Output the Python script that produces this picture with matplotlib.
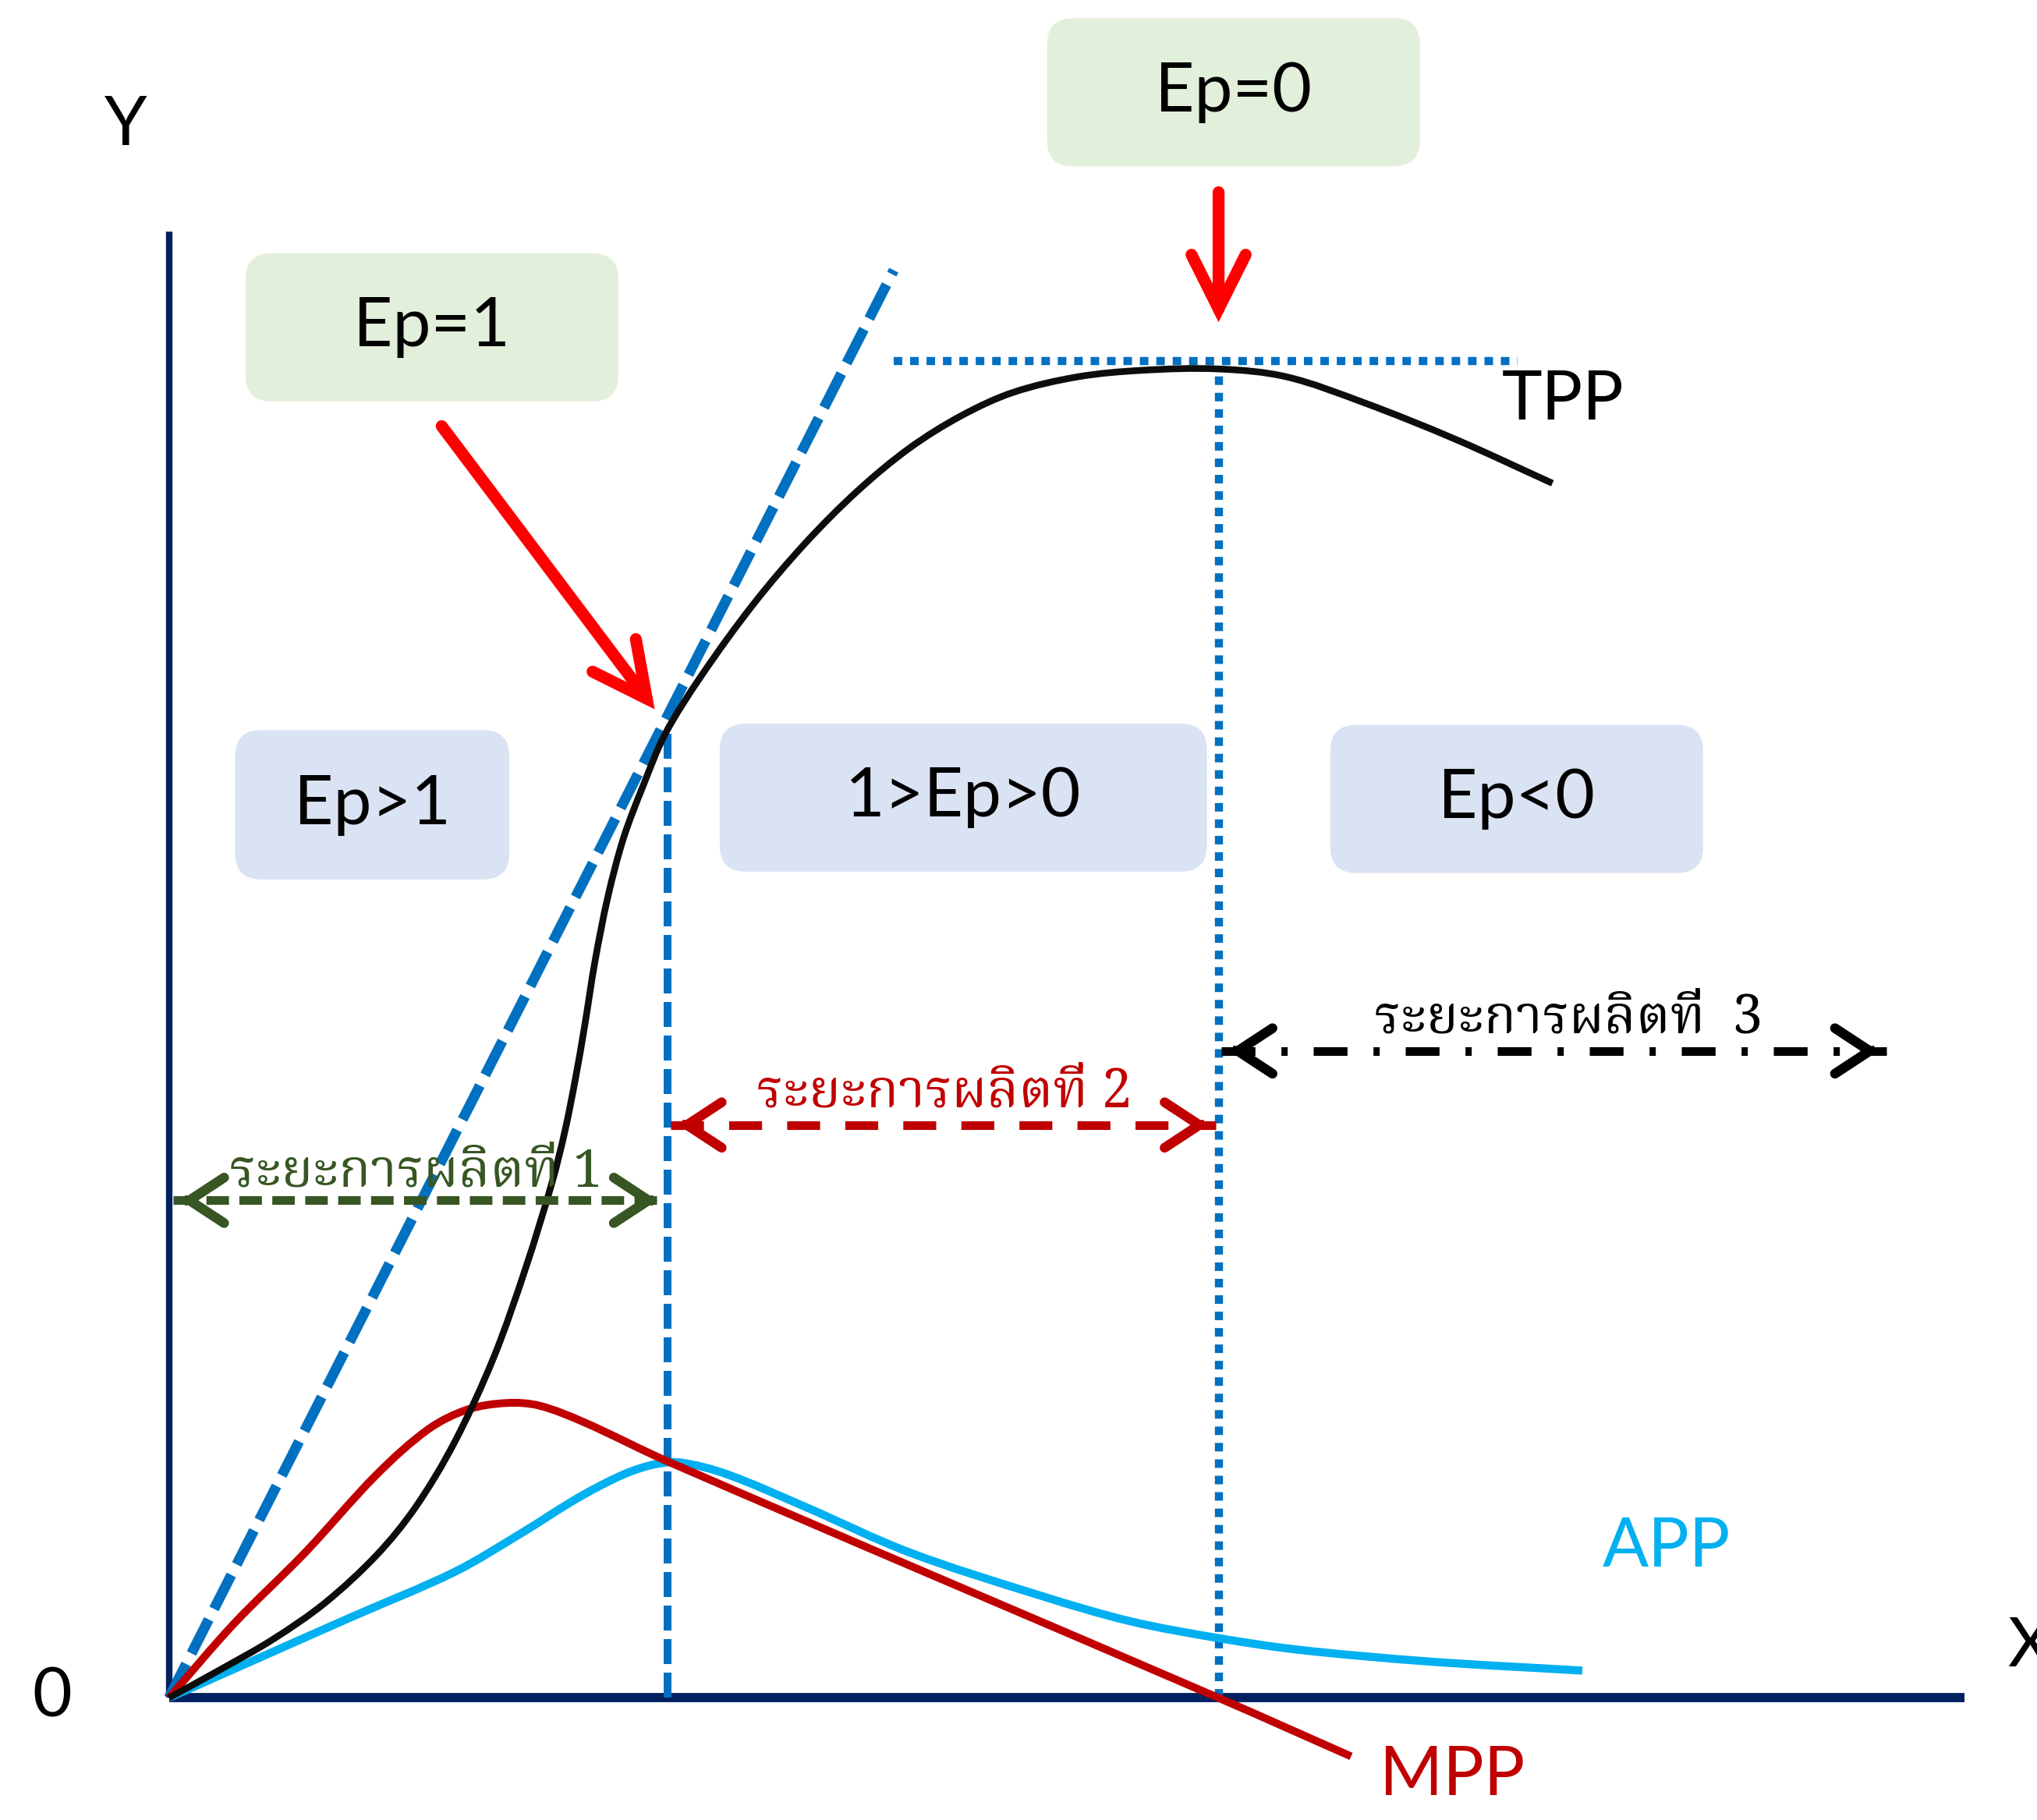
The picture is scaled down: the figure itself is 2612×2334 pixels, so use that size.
import matplotlib
matplotlib.use("Agg")
import numpy as np
import matplotlib.pyplot as plt
from matplotlib import font_manager
from matplotlib.ft2font import FT2Font
from matplotlib.patches import FancyBboxPatch, PathPatch
from matplotlib.path import Path

# drawing units: origin where the two axes meet, 1 unit ~ 1/14 of the width

# TPP / MPP / APP curves
tpp_x = [0, 0.40, 0.80, 1.20, 1.60, 1.90, 2.20, 2.50, 2.75, 2.95, 3.05, 3.13, 3.20,
         3.28, 3.38, 3.50, 3.65, 3.82, 4.10, 4.50, 4.90, 5.30, 5.70, 6.10, 6.50,
         7.00, 7.50, 8.08, 8.60, 9.20, 9.90, 10.65]
tpp_y = [0, 0.22, 0.45, 0.73, 1.10, 1.47, 1.97, 2.62, 3.32, 3.97, 4.37, 4.77, 5.17,
         5.67, 6.17, 6.62, 7.02, 7.42, 7.87, 8.42, 8.89, 9.29, 9.62, 9.87, 10.05,
         10.17, 10.22, 10.23, 10.17, 9.97, 9.69, 9.35]

mpp_x = [0, 0.50, 1.05, 1.60, 2.00, 2.30, 2.60, 2.85, 3.20, 3.84, 8.08, 9.10]
mpp_y = [0, 0.57, 1.12, 1.72, 2.07, 2.22, 2.27, 2.25, 2.12, 1.82, 0.00, -0.45]

app_x = [0, 0.70, 1.40, 2.20, 2.70, 3.15, 3.50, 3.75, 3.95, 4.30, 4.90, 5.70,
         6.70, 7.40, 8.08, 8.70, 9.70, 10.88]
app_y = [0, 0.31, 0.62, 0.97, 1.26, 1.54, 1.72, 1.80, 1.81, 1.72, 1.47, 1.12,
         0.79, 0.59, 0.46, 0.37, 0.28, 0.21]

# tangent through the origin (Ep=1) and the guide lines
tangent_x = [0, 5.58]
tangent_y = [0, 10.99]
x_ep1 = 3.84          # TPP point where Ep = 1
y_ep1 = 7.42
x_ep0 = 8.08          # TPP maximum, Ep = 0
y_ep0 = 10.23
top_line_x = [5.58, 10.38]
top_line_y = 10.29

x_axis_end = 13.82
y_axis_end = 11.29

# stage ranges
stage_labels = ["ระยะการผลิตที่ 1", "ระยะการผลิตที่ 2", "ระยะการผลิตที่  3"]
stage_start = [0.03, 3.86, 8.10]
stage_end = [3.82, 8.06, 13.22]
stage_y = [3.83, 4.41, 4.98]
stage_text_x = [1.90, 5.97, 10.77]
stage_text_y = [3.94, 4.55, 5.12]
stage_text_w = [2.87, 2.89, 2.99]

# label boxes: text, (left, bottom, width, height), face colour
box_text = ["Ep=0", "Ep=1", "Ep>1", "1>Ep>0", "Ep<0"]
box_rect = [(6.76, 11.79, 2.87, 1.14),
            (0.59, 9.98, 2.87, 1.14),
            (0.51, 6.30, 2.11, 1.15),
            (4.24, 6.36, 3.75, 1.14),
            (8.94, 6.35, 2.87, 1.14)]
box_color = ["#E2EFDA", "#E2EFDA", "#DAE3F3", "#DAE3F3", "#DAE3F3"]

# red pointer arrows (from, to)
ep0_arrow = [(8.08, 11.59), (8.08, 10.59)]
ep1_arrow = [(2.10, 9.79), (3.74, 7.61)]


def thai_family():
    prefs = ["Angsana New", "Norasi", "Kinnari", "Laksaman", "TH Sarabun New",
             "Noto Serif Thai", "Garuda", "Loma", "Noto Sans Thai",
             "Noto Sans Thai Looped", "Tlwg Typo"]
    found = []
    for f in font_manager.fontManager.ttflist:
        try:
            cmap = FT2Font(f.fname).get_charmap()
        except Exception:
            continue
        if 0x0E23 in cmap and 0x0E34 in cmap:
            found.append(f.name)
    for p in prefs:
        if p in found:
            return p
    if found:
        return found[0]
    return "DejaVu Sans"


def smooth(xs, ys):
    # chord-length Catmull-Rom through the read points, drawn as Bezier segments
    p = np.column_stack([xs, ys]).astype(float)
    n = len(p)
    t = np.concatenate([[0], np.cumsum(np.hypot(*np.diff(p, axis=0).T))])
    m = np.zeros_like(p)
    m[0] = (p[1] - p[0]) / (t[1] - t[0])
    m[-1] = (p[-1] - p[-2]) / (t[-1] - t[-2])
    for i in range(1, n - 1):
        m[i] = (p[i + 1] - p[i - 1]) / (t[i + 1] - t[i - 1])
    verts = [tuple(p[0])]
    codes = [Path.MOVETO]
    for i in range(n - 1):
        h = (t[i + 1] - t[i]) / 3
        verts += [tuple(p[i] + m[i] * h), tuple(p[i + 1] - m[i + 1] * h), tuple(p[i + 1])]
        codes += [Path.CURVE4] * 3
    return Path(verts, codes)


plt.rcParams['font.family'] = ['Lato', 'DejaVu Sans']
thai = thai_family()

fig = plt.figure(figsize=(26.12, 23.34), dpi=100)
ax = fig.add_axes([0, 0, 1, 1])
ax.set_xlim(-1.30, 14.38)
ax.set_ylim(-0.94, 13.07)
ax.axis('off')

navy = "#002060"
blue = "#0070C0"

# axes
ax.plot([0, 0], [0, y_axis_end], color=navy, lw=6, solid_capstyle='butt', zorder=2)
ax.plot([0, x_axis_end], [0, 0], color=navy, lw=8.5, solid_capstyle='butt', zorder=2)

# boxes
for txt, (bx, by, bw, bh), fc in zip(box_text, box_rect, box_color):
    ax.add_patch(FancyBboxPatch((bx, by), bw, bh,
                                boxstyle="round,pad=0,rounding_size=0.2",
                                fc=fc, ec='none', zorder=1))
    ax.text(bx + bw / 2, by + bh / 2, txt, fontsize=63, ha='center', va='center',
            color='black', zorder=6)

# guide lines
ax.plot(tangent_x, tangent_y, color=blue, lw=9.5, dashes=(3.7, 1.15), zorder=3)
ax.plot([x_ep1, x_ep1], [0, y_ep1], color=blue, lw=7.2, dashes=(3.2, 1.1), zorder=3)
ax.plot([x_ep0, x_ep0], [0, y_ep0], color=blue, lw=7.5, dashes=(1.05, 0.97), zorder=3)
ax.plot(top_line_x, [top_line_y, top_line_y], color=blue, lw=7.5, dashes=(1.05, 0.97),
        zorder=3)

# curves
for xs, ys, col, lw, z in [(app_x, app_y, "#00B0F0", 7.5, 4),
                           (mpp_x, mpp_y, "#C00000", 7.2, 4),
                           (tpp_x, tpp_y, "#0D0D0D", 6.2, 5)]:
    ax.add_patch(PathPatch(smooth(xs, ys), fill=False, ec=col, lw=lw,
                           capstyle='butt', joinstyle='round', zorder=z))

# red pointers
for (x0, y0), (x1, y1) in [ep0_arrow, ep1_arrow]:
    ax.annotate('', xy=(x1, y1), xytext=(x0, y0),
                arrowprops=dict(arrowstyle='->,head_length=50,head_width=25',
                                color='#FF0000', lw=11, mutation_scale=1,
                                shrinkA=0, shrinkB=0, capstyle='round',
                                joinstyle='miter'), zorder=7)

# stage arrows
stage_color = ["#375623", "#C00000", "black"]
stage_dash = [(2.6, 1.2), (3.8, 2.9), (3.9, 3.0, 0.72, 3.0)]
thai_texts = []
for i in range(3):
    ax.plot([stage_start[i], stage_end[i]], [stage_y[i], stage_y[i]],
            color=stage_color[i], lw=8, dashes=stage_dash[i], zorder=6)
    for tip, d in [(stage_start[i], -1), (stage_end[i], 1)]:
        ax.annotate('', xy=(tip - d * 0.06, stage_y[i]), xytext=(tip - d * 0.1, stage_y[i]),
                    arrowprops=dict(arrowstyle='->,head_length=32,head_width=21',
                                    color=stage_color[i], lw=9, mutation_scale=1,
                                    shrinkA=0, shrinkB=0, capstyle='round',
                                    joinstyle='miter'), zorder=6)
    t = ax.text(stage_text_x[i], stage_text_y[i], stage_labels[i], family=[thai, 'DejaVu Sans'],
                fontsize=40, ha='center', va='baseline', color=stage_color[i], zorder=6)
    thai_texts.append(t)

# fit the Thai labels to the width they have in the picture
renderer = fig.canvas.get_renderer()
px_per_unit = fig.bbox.width / (14.38 + 1.30)
for t, w in zip(thai_texts, stage_text_w):
    bb = t.get_window_extent(renderer)
    if bb.width > 0:
        t.set_fontsize(40 * w * px_per_unit / bb.width)

# curve and axis labels
ax.text(-0.33, 12.10, "Y", fontsize=63, ha='center', va='center')
ax.text(-0.90, 0.0, "0", fontsize=63, ha='center', va='center')
ax.text(14.15, 0.39, "X", fontsize=63, ha='left', va='center')
ax.text(10.73, 9.99, "TPP", fontsize=63, ha='center', va='center')
ax.text(11.53, 1.16, "APP", fontsize=63, ha='center', va='center', color="#00B0F0")
ax.text(9.88, -0.60, "MPP", fontsize=63, ha='center', va='center', color="#C00000")

fig.savefig("out.png", dpi=100)
